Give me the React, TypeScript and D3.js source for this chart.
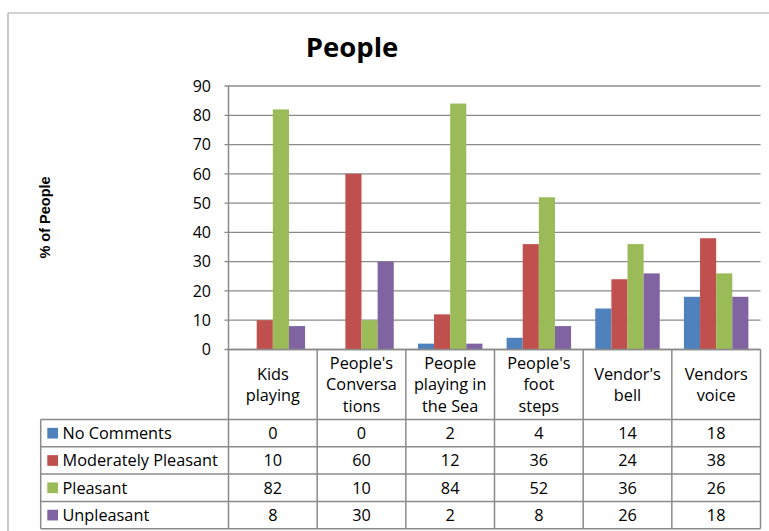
import React from "react";
import * as d3 from "d3";

const categories = ["Kids playing", "People's Conversations", "People playing in the Sea", "People's foot steps", "Vendor's bell", "Vendors voice"];
const categoryLines = [["Kids", "playing"], ["People's", "Conversa", "tions"], ["People", "playing in", "the Sea"], ["People's", "foot", "steps"], ["Vendor's", "bell"], ["Vendors", "voice"]];
const seriesNames = ["No Comments", "Moderately Pleasant", "Pleasant", "Unpleasant"];
const noComments = [0, 0, 2, 4, 14, 18];
const moderatelyPleasant = [10, 60, 12, 36, 24, 38];
const pleasant = [82, 10, 84, 52, 36, 26];
const unpleasant = [8, 30, 2, 8, 26, 18];
const seriesColors = ["#4F81BD", "#C0504D", "#9BBB59", "#8064A2"];
const yTicks = [0, 10, 20, 30, 40, 50, 60, 70, 80, 90];

const seriesValues = [noComments, moderatelyPleasant, pleasant, unpleasant];

export default function App() {
  const W = 769, H = 531;
  const plotLeft = 228.5, plotRight = 760.5, plotTop = 86, plotBottom = 349.5;
  const tableLeft = 40.7;
  const headerBottom = 419.5;
  const rowH = 27.3;
  const font = "'Open Sans', sans-serif";
  const fs = 16.3;
  const gridColor = "#8a8a8a";

  const x = d3.scaleBand<string>().domain(categories).range([plotLeft, plotRight]).padding(0);
  const xs = d3.scaleBand<string>().domain(seriesNames).range([0, x.bandwidth()]).paddingInner(0).paddingOuter(0.75);
  const y = d3.scaleLinear().domain([0, 90]).range([plotBottom, plotTop]);

  const rowYs = seriesNames.map((_, i) => headerBottom + i * rowH);
  const tableBottom = headerBottom + seriesNames.length * rowH;

  return (
    <svg width={W} height={H} style={{ display: "block", position: "absolute", left: 0, top: 0 }}>
      <rect x={0} y={0} width={W} height={H} fill="#fff" />
      {/* outer chart border */}
      <line x1={8} y1={13} x2={W} y2={13} stroke="#a6a6a6" strokeWidth={1.2} />
      <line x1={8} y1={13} x2={8} y2={H} stroke="#a6a6a6" strokeWidth={1.2} />

      {/* title */}
      <text x={352} y={56.5} textAnchor="middle" fontFamily={font} fontWeight="bold" fontSize={27.5} fill="#000">People</text>

      {/* y axis label */}
      <text transform={`translate(50,217.5) rotate(-90)`} textAnchor="middle" fontFamily="'Liberation Sans', Arial, sans-serif" fontWeight="bold" fontSize={14.5} fill="#000">% of People</text>

      {/* gridlines */}
      {yTicks.map((t) => (
        <line key={"g" + t} x1={plotLeft - 4} x2={plotRight} y1={y(t)} y2={y(t)} stroke={gridColor} strokeWidth={1.3} />
      ))}
      {/* tick labels */}
      {yTicks.map((t) => (
        <text key={"t" + t} x={211} y={y(t) + 5.8} textAnchor="end" fontFamily={font} fontSize={16} fill="#000">{t}</text>
      ))}

      {/* bars */}
      {categories.map((c, ci) => (
        <g key={c}>
          {seriesNames.map((s, si) => {
            const v = seriesValues[si][ci];
            const bx = (x(c) as number) + (xs(s) as number);
            return (
              <rect key={s} x={bx} y={y(v)} width={xs.bandwidth()} height={plotBottom - y(v)} fill={seriesColors[si]} />
            );
          })}
        </g>
      ))}

      {/* axis line */}
      <line x1={plotLeft} x2={plotLeft} y1={plotTop} y2={tableBottom} stroke={gridColor} strokeWidth={1.5} />

      {/* table */}
      <line x1={plotLeft} x2={plotRight} y1={plotBottom} y2={plotBottom} stroke={gridColor} strokeWidth={1.5} />
      {categories.map((c) => (
        <line key={"v" + c} x1={(x(c) as number) + x.bandwidth()} x2={(x(c) as number) + x.bandwidth()} y1={plotBottom} y2={tableBottom} stroke={gridColor} strokeWidth={1.5} />
      ))}
      <line x1={tableLeft} x2={tableLeft} y1={headerBottom} y2={tableBottom} stroke={gridColor} strokeWidth={1.5} />
      {[...rowYs, tableBottom].map((ry, i) => (
        <line key={"h" + i} x1={tableLeft} x2={plotRight} y1={ry} y2={ry} stroke={gridColor} strokeWidth={1.5} />
      ))}

      {/* header labels */}
      {categories.map((c, ci) => {
        const lines = categoryLines[ci];
        const lh = 21.5;
        const cy = (plotBottom + headerBottom) / 2;
        const cx = (x(c) as number) + x.bandwidth() / 2;
        return (
          <text key={"hl" + c} textAnchor="middle" fontFamily={font} fontSize={fs} fill="#000">
            {lines.map((ln, li) => (
              <tspan key={li} x={cx} y={cy + (li - (lines.length - 1) / 2) * lh + 5.8}>{ln}</tspan>
            ))}
          </text>
        );
      })}

      {/* rows */}
      {seriesNames.map((s, si) => {
        const ry = rowYs[si];
        const cy = ry + rowH / 2;
        return (
          <g key={"r" + s}>
            <rect x={47.3} y={cy - 5.3} width={10.7} height={10.7} fill={seriesColors[si]} />
            <text x={62.5} y={cy + 5.8} fontFamily={font} fontSize={fs} fill="#000">{s}</text>
            {categories.map((c, ci) => (
              <text key={c} x={(x(c) as number) + x.bandwidth() / 2} y={cy + 5.8} textAnchor="middle" fontFamily={font} fontSize={fs} fill="#000">
                {seriesValues[si][ci]}
              </text>
            ))}
          </g>
        );
      })}
    </svg>
  );
}
